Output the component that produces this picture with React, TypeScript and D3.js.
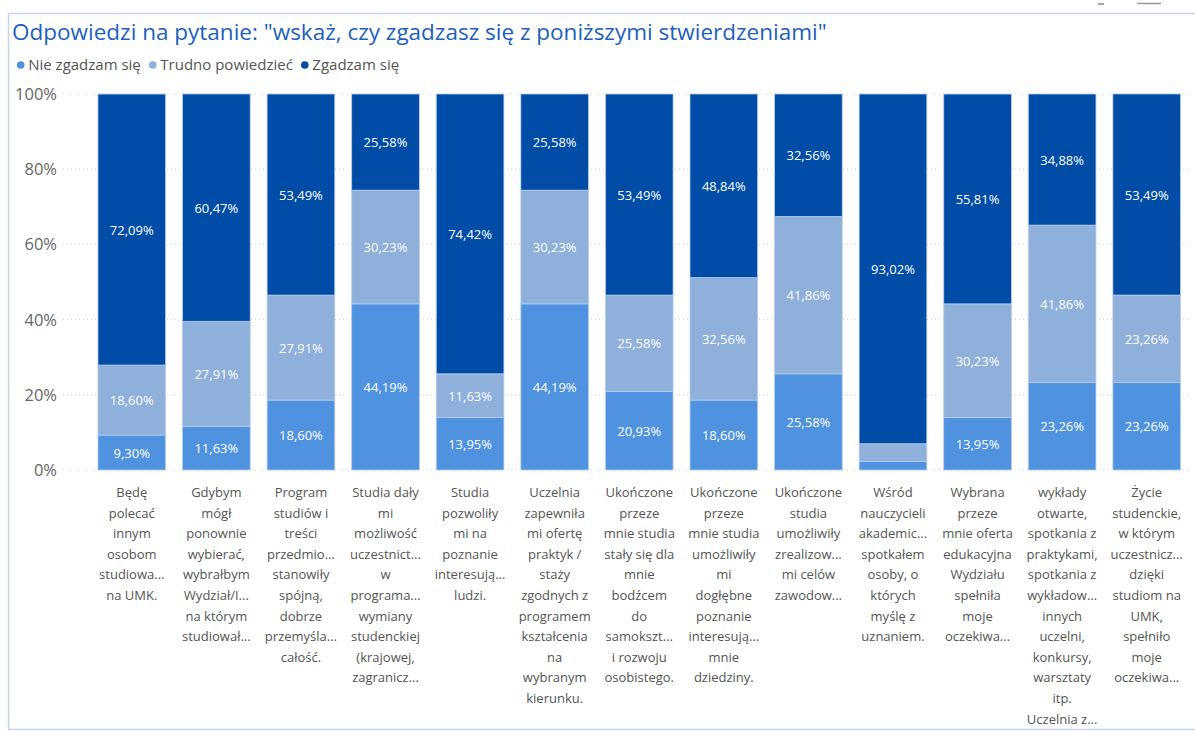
import React, { useEffect, useRef } from "react";
import * as d3 from "d3";

const title = 'Odpowiedzi na pytanie: "wskaż, czy zgadzasz się z poniższymi stwierdzeniami"';
const seriesNames = ["Nie zgadzam się", "Trudno powiedzieć", "Zgadzam się"];
const seriesColors = ["#4f92e0", "#8eb0da", "#004ca6"];

const categories = [
  ["Będę", "polecać", "innym", "osobom", "studiowa...", "na UMK."],
  ["Gdybym", "mógł", "ponownie", "wybierać,", "wybrałbym", "Wydział/I...", "na którym", "studiował..."],
  ["Program", "studiów i", "treści", "przedmio...", "stanowiły", "spójną,", "dobrze", "przemyśla...", "całość."],
  ["Studia dały", "mi", "możliwość", "uczestnict...", "w", "programa...", "wymiany", "studenckiej", "(krajowej,", "zagranicz..."],
  ["Studia", "pozwoliły", "mi na", "poznanie", "interesują...", "ludzi."],
  ["Uczelnia", "zapewniła", "mi ofertę", "praktyk /", "staży", "zgodnych z", "programem", "kształcenia", "na", "wybranym", "kierunku."],
  ["Ukończone", "przeze", "mnie studia", "stały się dla", "mnie", "bodźcem", "do", "samokszt...", "i rozwoju", "osobistego."],
  ["Ukończone", "przeze", "mnie studia", "umożliwiły", "mi", "dogłębne", "poznanie", "interesują...", "mnie", "dziedziny."],
  ["Ukończone", "studia", "umożliwiły", "zrealizow...", "mi celów", "zawodow..."],
  ["Wśród", "nauczycieli", "akademic...", "spotkałem", "osoby, o", "których", "myślę z", "uznaniem."],
  ["Wybrana", "przeze", "mnie oferta", "edukacyjna", "Wydziału", "spełniła", "moje", "oczekiwa..."],
  ["wykłady", "otwarte,", "spotkania z", "praktykami,", "spotkania z", "wykładow...", "innych", "uczelni,", "konkursy,", "warsztaty", "itp.", "Uczelnia z..."],
  ["Życie", "studenckie,", "w którym", "uczestnicz...", "dzięki", "studiom na", "UMK,", "spełniło", "moje", "oczekiwa..."],
];

const nieZgadzam = [9.3, 11.63, 18.6, 44.19, 13.95, 44.19, 20.93, 18.6, 25.58, 2.33, 13.95, 23.26, 23.26];
const trudno = [18.6, 27.91, 27.91, 30.23, 11.63, 30.23, 25.58, 32.56, 41.86, 4.65, 30.23, 41.86, 23.26];
const zgadzam = [72.09, 60.47, 53.49, 25.58, 74.42, 25.58, 53.49, 48.84, 32.56, 93.02, 55.81, 34.88, 53.49];

const yTicks = [0, 20, 40, 60, 80, 100];

const W = 1195;
const H = 731;
const font = "'Open Sans', 'Noto Sans', sans-serif";

export default function App() {
  const svgRef = useRef<SVGSVGElement>(null);

  useEffect(() => {
    const svg = d3.select(svgRef.current);
    svg.selectAll("*").remove();

    const x = d3.scaleBand<number>()
      .domain(d3.range(categories.length))
      .range([89.5, 1189])
      .paddingInner(0.2)
      .paddingOuter(0.1);
    const y = d3.scaleLinear().domain([0, 100]).range([470, 94]);

    // little toolbar marks above the visual
    svg.append("line").attr("x1", 1098).attr("x2", 1104).attr("y1", 4).attr("y2", 4)
      .attr("stroke", "#888").attr("stroke-width", 1.5);
    svg.append("line").attr("x1", 1137).attr("x2", 1161).attr("y1", 3.5).attr("y2", 3.5)
      .attr("stroke", "#999").attr("stroke-width", 1.5);

    // frame
    svg.append("rect")
      .attr("x", 8.5).attr("y", 13.5)
      .attr("width", 1195).attr("height", 716)
      .attr("fill", "white")
      .attr("stroke", "#c5d7ef")
      .attr("stroke-width", 1.5);

    // title
    svg.append("text")
      .attr("x", 12).attr("y", 40)
      .attr("fill", "#1d5fbf")
      .style("font-family", font)
      .style("font-size", "22.5px")
      .text(title);

    // legend
    const legend = svg.append("g").attr("transform", "translate(20.7,65)");
    let lx = 0;
    seriesNames.forEach((name, i) => {
      const g = legend.append("g").attr("transform", `translate(${lx},0)`);
      g.append("circle").attr("cx", 0).attr("cy", 0).attr("r", 3.8).attr("fill", seriesColors[i]);
      const t = g.append("text")
        .attr("x", 7.5).attr("y", 5.3)
        .attr("fill", "#555")
        .style("font-family", font)
        .style("font-size", "15px")
        .text(name);
      const w = (t.node() as SVGTextElement).getComputedTextLength();
      lx += 7.5 + w + 12;
    });

    // grid + y labels
    const grid = svg.append("g");
    yTicks.forEach(t => {
      grid.append("line")
        .attr("x1", 63).attr("x2", 1189)
        .attr("y1", y(t)).attr("y2", y(t))
        .attr("stroke", "#d0d0d0")
        .attr("stroke-dasharray", "1,3");
      grid.append("text")
        .attr("x", 57).attr("y", y(t) + 6)
        .attr("text-anchor", "end")
        .attr("fill", "#666")
        .style("font-family", font)
        .style("font-size", "16.5px")
        .text(`${t}%`);
    });

    // stacked bars
    const rows = categories.map((_, i) => ({ i, a: nieZgadzam[i], b: trudno[i], c: zgadzam[i] }));
    const stack = d3.stack<any>().keys(["a", "b", "c"])(rows);
    const fmt = (v: number) => v.toFixed(2).replace(".", ",") + "%";

    stack.forEach((layer, si) => {
      const g = svg.append("g");
      layer.forEach((d, i) => {
        g.append("rect")
          .attr("x", x(i)!)
          .attr("y", y(d[1]))
          .attr("width", x.bandwidth())
          .attr("height", y(d[0]) - y(d[1]))
          .attr("fill", seriesColors[si])
          .attr("stroke", "#b7cdec")
          .attr("stroke-width", 0.8);
      });
      layer.forEach((d, i) => {
        const v = d[1] - d[0];
        if (y(d[0]) - y(d[1]) < 20) return;
        g.append("text")
          .attr("x", x(i)! + x.bandwidth() / 2)
          .attr("y", (y(d[0]) + y(d[1])) / 2 + 5)
          .attr("text-anchor", "middle")
          .attr("fill", "white")
          .style("font-family", font)
          .style("font-size", "13px")
          .text(fmt(v));
      });
    });

    // x labels
    categories.forEach((lines, i) => {
      const t = svg.append("text")
        .attr("text-anchor", "middle")
        .attr("fill", "#555")
        .style("font-family", font)
        .style("font-size", "13px");
      lines.forEach((ln, j) => {
        t.append("tspan")
          .attr("x", x(i)! + x.bandwidth() / 2)
          .attr("y", 497 + j * 20.6)
          .text(ln);
      });
    });
  }, []);

  return (
    <svg ref={svgRef} width={W} height={H} style={{ position: "absolute", left: 0, top: 0 }} />
  );
}
